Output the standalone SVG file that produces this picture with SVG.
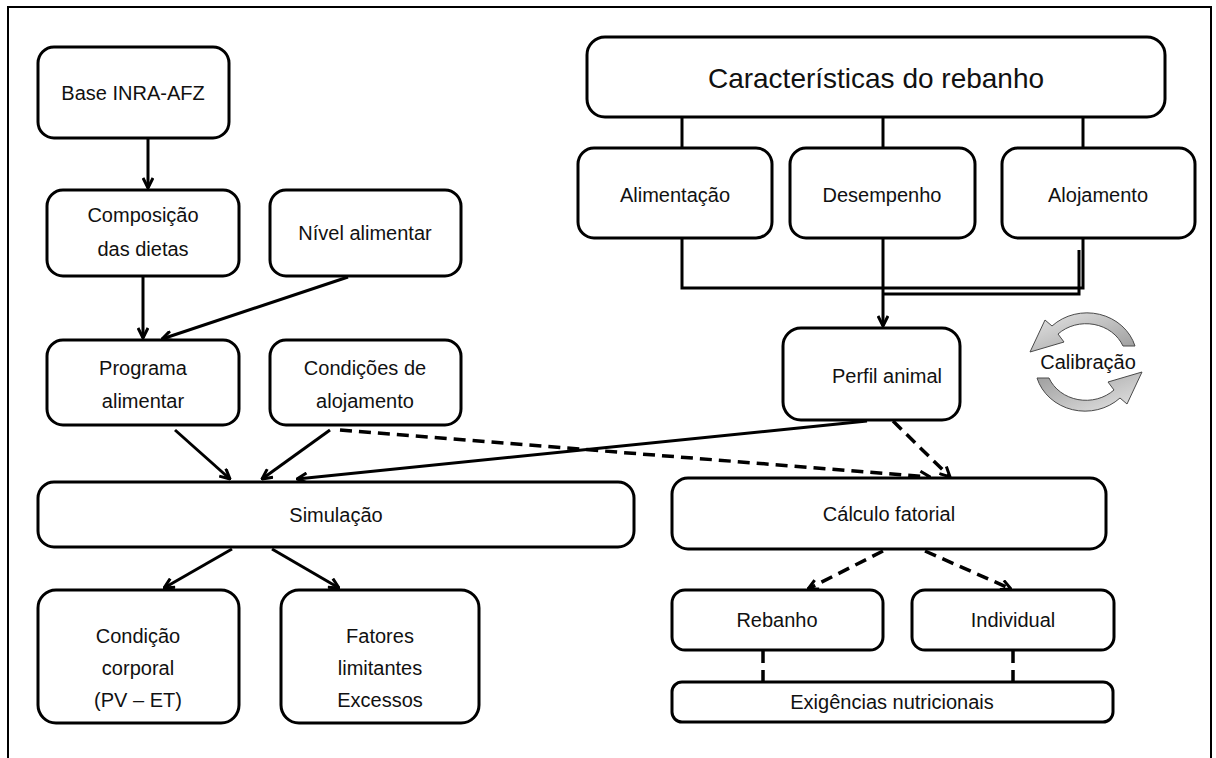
<svg xmlns="http://www.w3.org/2000/svg" width="1216" height="758" viewBox="0 0 1216 758">
<defs>
<style>
.box{fill:#fff;stroke:#000;stroke-width:3}
.t{font-family:"Liberation Sans",Arial,sans-serif;font-size:20px;fill:#111;text-anchor:middle}
.ln{fill:none;stroke:#000;stroke-width:3}
.ds{fill:none;stroke:#000;stroke-width:3.5;stroke-dasharray:12,7}
.cal{stroke:#4a4a4a;stroke-width:1;fill:url(#g)}
</style>
<linearGradient id="g" x1="0" y1="0" x2="1" y2="1">
<stop offset="0" stop-color="#e6e6e6"/>
<stop offset="1" stop-color="#9a9a9a"/>
</linearGradient>
<marker id="ah" markerWidth="12" markerHeight="12" viewBox="0 0 12 12" refX="11" refY="6" orient="auto" markerUnits="userSpaceOnUse">
<path d="M1,1 L11,6 L1,11" fill="none" stroke="#000" stroke-width="3"/>
</marker>
</defs>
<rect width="1216" height="758" fill="#fff"/>
<path d="M8,770 L8,7 L1211,7 L1211,770" fill="none" stroke="#000" stroke-width="2"/>

<g id="connectors">
<line class="ln" x1="148" y1="138" x2="148" y2="188" marker-end="url(#ah)"/>
<line class="ln" x1="143" y1="276" x2="143" y2="338" marker-end="url(#ah)"/>
<line class="ln" x1="348" y1="277" x2="162" y2="339" marker-end="url(#ah)"/>
<line class="ln" x1="175" y1="430" x2="230" y2="479" marker-end="url(#ah)"/>
<line class="ln" x1="330" y1="430" x2="262" y2="479" marker-end="url(#ah)"/>
<line class="ln" x1="867" y1="421" x2="297" y2="479" marker-end="url(#ah)"/>
<line class="ln" x1="232" y1="549" x2="164" y2="588" marker-end="url(#ah)"/>
<line class="ln" x1="272" y1="549" x2="339" y2="588" marker-end="url(#ah)"/>
<line class="ds" x1="340" y1="430" x2="930" y2="477" marker-end="url(#ah)"/>
<line class="ds" x1="893" y1="421" x2="950" y2="477" marker-end="url(#ah)"/>
<line class="ds" x1="883" y1="551" x2="808" y2="589" marker-end="url(#ah)"/>
<line class="ds" x1="925" y1="551" x2="1011" y2="589" marker-end="url(#ah)"/>
<line class="ds" x1="763" y1="651" x2="763" y2="682" stroke-dasharray="12,6"/>
<line class="ds" x1="1013" y1="651" x2="1013" y2="682" stroke-dasharray="12,6"/>
<line class="ln" x1="682" y1="117" x2="682" y2="148"/>
<line class="ln" x1="883" y1="117" x2="883" y2="148"/>
<line class="ln" x1="1083" y1="117" x2="1083" y2="148"/>
<polyline class="ln" points="682,238 682,288 1083,288 1083,238"/>
<polyline class="ln" points="1079,250 1079,294 883,294"/>
<line class="ln" x1="883" y1="238" x2="883" y2="326" marker-end="url(#ah)"/>
</g>

<g id="base-inra"><rect class="box" x="38" y="47" width="191" height="91" rx="16"/><text class="t" x="133" y="100">Base INRA-AFZ</text></g>
<g id="composicao"><rect class="box" x="47" y="190" width="192" height="86" rx="16"/><text class="t" x="143" y="222">Composição</text><text class="t" x="143" y="256">das dietas</text></g>
<g id="nivel"><rect class="box" x="270" y="190" width="191" height="86" rx="16"/><text class="t" x="365" y="240">Nível alimentar</text></g>
<g id="programa"><rect class="box" x="47" y="340" width="192" height="85" rx="16"/><text class="t" x="143" y="375">Programa</text><text class="t" x="143" y="408">alimentar</text></g>
<g id="condicoes"><rect class="box" x="270" y="340" width="191" height="85" rx="16"/><text class="t" x="365" y="375">Condições de</text><text class="t" x="365" y="408">alojamento</text></g>
<g id="simulacao"><rect class="box" x="38" y="482" width="596" height="65" rx="16"/><text class="t" x="336" y="522">Simulação</text></g>
<g id="condicao-corporal"><rect class="box" x="38" y="590" width="201" height="133" rx="18"/><text class="t" x="138" y="643">Condição</text><text class="t" x="138" y="675">corporal</text><text class="t" x="138" y="707">(PV – ET)</text></g>
<g id="fatores"><rect class="box" x="281" y="590" width="198" height="133" rx="18"/><text class="t" x="380" y="643">Fatores</text><text class="t" x="380" y="675">limitantes</text><text class="t" x="380" y="707">Excessos</text></g>
<g id="caracteristicas"><rect class="box" x="587" y="37" width="578" height="80" rx="18"/><text class="t" x="876" y="88" style="font-size:28px">Características do rebanho</text></g>
<g id="alimentacao"><rect class="box" x="578" y="148" width="194" height="90" rx="16"/><text class="t" x="675" y="202">Alimentação</text></g>
<g id="desempenho"><rect class="box" x="790" y="148" width="185" height="90" rx="16"/><text class="t" x="882" y="202">Desempenho</text></g>
<g id="alojamento"><rect class="box" x="1002" y="148" width="193" height="90" rx="16"/><text class="t" x="1098" y="202">Alojamento</text></g>
<g id="perfil"><rect class="box" x="783" y="328" width="177" height="92" rx="18"/><text class="t" x="887" y="383">Perfil animal</text></g>
<g id="calculo"><rect class="box" x="672" y="478" width="434" height="71" rx="16"/><text class="t" x="889" y="521">Cálculo fatorial</text></g>
<g id="rebanho"><rect class="box" x="672" y="590" width="211" height="60" rx="13"/><text class="t" x="777" y="627">Rebanho</text></g>
<g id="individual"><rect class="box" x="912" y="590" width="202" height="60" rx="13"/><text class="t" x="1013" y="627">Individual</text></g>
<g id="exigencias"><rect class="box" x="672" y="682" width="441" height="40" rx="10"/><text class="t" x="892" y="709">Exigências nutricionais</text></g>

<g id="calibracao">
<path class="cal" d="M1135,346 A50,46 0 0 0 1052,326 L1045,320 L1030,352 L1064,342 L1058,334 A40,36 0 0 1 1123,346 Z"/>
<path class="cal" transform="rotate(180 1086 362)" d="M1135,346 A50,46 0 0 0 1052,326 L1045,320 L1030,352 L1064,342 L1058,334 A40,36 0 0 1 1123,346 Z"/>
<text class="t" x="1088" y="369" style="font-size:20px">Calibração</text>
</g>
</svg>
